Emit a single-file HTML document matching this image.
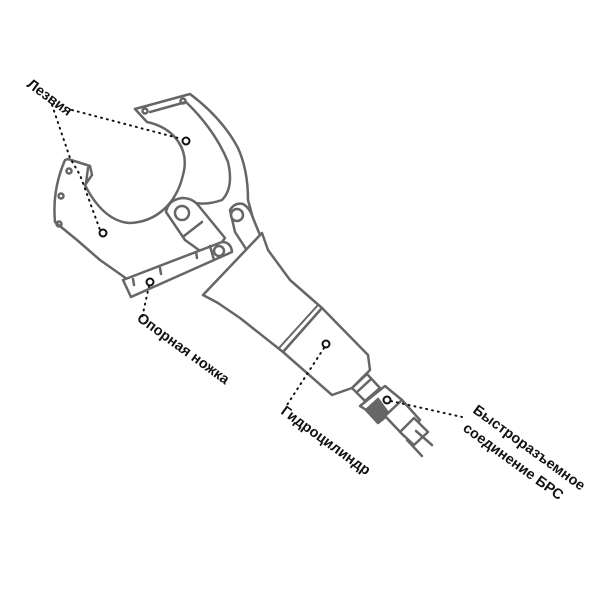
<!DOCTYPE html>
<html><head><meta charset="utf-8"><style>
html,body{margin:0;padding:0;background:#fff;}
svg{display:block;}
text{font-family:"Liberation Sans",sans-serif;font-weight:bold;font-size:14.5px;fill:#111;}
</style></head><body>
<svg width="600" height="600" viewBox="0 0 600 600" xmlns="http://www.w3.org/2000/svg">
<g fill="none" stroke="#666" stroke-width="2.5" stroke-linejoin="round" stroke-linecap="round">
<!-- upper jaw -->
<path d="M135,109 L190,94 Q222,118 238,148 Q248,170 248,200 L257,233"/>
<path d="M135,109 L147,122 C175,128 190,150 183,175 C176,205 155,222 130,223 C110,222 95,205 85,185"/>
<path d="M150,112 L186,102 Q215,130 228,162 Q234,188 222,200 Q205,206 190,202"/>
<circle cx="145" cy="111" r="2.5"/><circle cx="183" cy="101" r="2.5"/>
<!-- lower jaw -->
<path d="M85,185 L92,175 L90,166 L68,159 L65,160 Q52,190 55,222 L77,240 L100,260 L127,279"/>
<line x1="88" y1="168" x2="86" y2="183"/>
<circle cx="69" cy="171" r="2.5"/><circle cx="61" cy="196" r="2.5"/><circle cx="59" cy="224" r="2.5"/>
</g>
<g fill="#fff" stroke="#666" stroke-width="2.5" stroke-linejoin="round" stroke-linecap="round">
<!-- links -->
<path d="M166,212 Q168,200 182,198 Q192,198 198,205 L225,238 L210,258 L185,240 Z"/>
<circle cx="182" cy="213" r="7"/>
<line x1="184" y1="236" x2="202" y2="222"/>
<path d="M230,210 Q235,202 243,204 Q250,208 253,218 L262,240 L248,252 L235,232 Z"/>
<circle cx="237" cy="215" r="6"/>
<!-- body -->
<path d="M203,295 L262,233 L268,250 L290,280 L322,308 L283,352 L240,318 L218,303 Z"/>
<!-- cylinder -->
<path d="M283,352 L322,308 L368,355 L370,370 L352,388 L332,395 Z"/>
<line x1="279" y1="348" x2="318" y2="305" stroke-width="2"/>
<!-- connector -->
<path d="M352,388 L367,374 L380,388 L365,401 Z"/>
<line x1="357" y1="392" x2="370" y2="380"/>
<path d="M360,406 L385,386 L402,400 L382,420 Z"/>
<path d="M366,410 L378,399 L389,414 L378,423 Z" fill="#666"/>
<path d="M385,416 L402,400 L420,420 L404,436 Z"/>
<path d="M400,432 L414,418 L428,432 L414,445 Z"/>
<line x1="416" y1="431" x2="432" y2="445"/>
<line x1="407" y1="440" x2="422" y2="456"/>
<!-- bar -->
<path d="M123,280 L222,242 Q231,242 232,252 L131,297 Z"/>
<circle cx="219" cy="251" r="5"/>
<line x1="210" y1="246" x2="214" y2="260"/>
<line x1="196" y1="252" x2="197" y2="258"/>
<line x1="160" y1="268" x2="161" y2="274"/>
<line x1="133" y1="279" x2="134" y2="285"/>
</g>
<!-- markers -->
<g fill="#fff" stroke="#111" stroke-width="2">
<circle cx="186" cy="141" r="3.5"/><circle cx="103" cy="233" r="3.5"/>
<circle cx="150" cy="282" r="3.5"/><circle cx="326" cy="344" r="3.5"/>
<circle cx="387" cy="400" r="3.5"/>
</g>
<g stroke="#111" stroke-width="2" stroke-dasharray="1,5" stroke-linecap="round" fill="none">
<line x1="72" y1="110" x2="182" y2="139"/>
<polyline points="52,105 70,158 80,175 100,230"/>
<line x1="149" y1="286" x2="142" y2="318"/>
<line x1="324" y1="348" x2="287" y2="405"/>
<line x1="391" y1="401" x2="462" y2="417"/>
</g>
<text transform="translate(26,86) rotate(36)">Лезвия</text>
<text transform="translate(136,320) rotate(36)">Опорная ножка</text>
<text transform="translate(280,413) rotate(36)">Гидроцилиндр</text>
<text transform="translate(472,412) rotate(36)">Быстроразъемное</text>
<text transform="translate(462,430) rotate(36)">соединение БРС</text>
</svg>
</body></html>
